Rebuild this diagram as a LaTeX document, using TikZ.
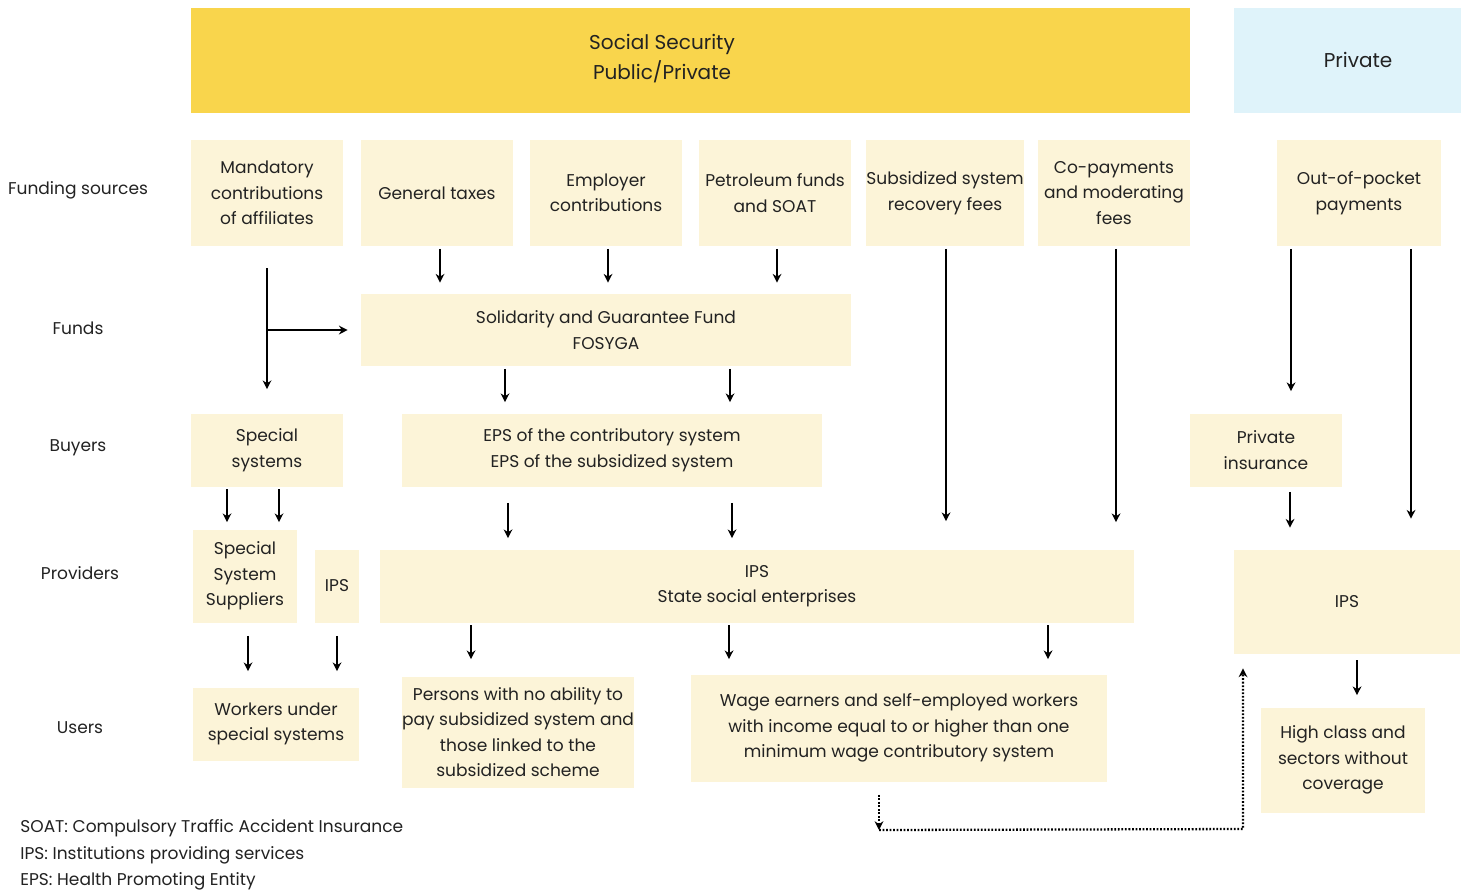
\documentclass[tikz,border=0pt]{standalone}
\usepackage{fontspec}
\setmainfont{Poppins}
\usetikzlibrary{arrows.meta}

\definecolor{cream}{HTML}{FCF4D8}
\definecolor{gold}{HTML}{F9D54C}
\definecolor{skyblue}{HTML}{DFF3FA}
\definecolor{ink}{HTML}{222222}

\begin{document}
\begin{tikzpicture}[
    x=0.02cm, y=-0.02cm,
    every node/.style={font=\fontsize{9.7}{14.5}\selectfont, text=ink},
    box/.style={fill=cream, align=center, inner sep=0pt},
    fund/.style={box, minimum width=3.04cm, minimum height=2.12cm},
    banner/.style={align=center, font=\fontsize{11.4}{17}\selectfont},
    rowlabel/.style={align=center},
    note/.style={anchor=west, inner sep=0pt},
    arrow/.style={-{Stealth[length=5pt,width=5pt]}, line width=1.1pt, shorten <=0.05cm, shorten >=0.22cm},
    dotarrow/.style={-{Stealth[length=5pt,width=5pt]}, line width=1.3pt, dash pattern=on 1pt off 1pt}
]
\useasboundingbox (0,0) rectangle (1461,894);

% Banners
\fill[gold] (191,8) rectangle (1190,113);
\fill[skyblue] (1234,8) rectangle (1461,113);
\node[banner] (social) at (662,59) {Social Security\\Public/Private};
\node[banner] (private) at (1358,60) {Private};

% Row labels
\node[rowlabel] (lfunding) at (78,190) {Funding sources};
\node[rowlabel] (lfunds) at (78,328) {Funds};
\node[rowlabel] (lbuyers) at (78,448) {Buyers};
\node[rowlabel] (lproviders) at (80,573) {Providers};
\node[rowlabel] (lusers) at (80,728) {Users};

% Funding sources
\node[fund] (mandatory) at (267,193) {Mandatory\\contributions\\of affiliates};
\node[fund] (taxes) at (437,193) {General taxes};
\node[fund] (employer) at (606,193) {Employer\\contributions};
\node[fund] (petroleum) at (775,193) {Petroleum funds\\and SOAT};
\node[fund] (recovery) at (945,193) {Subsidized system\\recovery fees};
\node[fund] (copay) at (1114,193) {Co-payments\\and moderating\\fees};
\node[fund, minimum width=3.28cm] (pocket) at (1359,193) {Out-of-pocket\\payments};

% Funds
\node[box, minimum width=9.8cm, minimum height=1.44cm] (fosyga) at (606,330) {Solidarity and Guarantee Fund\\FOSYGA};

% Buyers
\node[box, minimum width=3.04cm, minimum height=1.46cm] (special) at (267,450) {Special\\systems};
\node[box, minimum width=8.4cm, minimum height=1.46cm] (eps) at (612,450) {EPS of the contributory system\\EPS of the subsidized system};
\node[box, minimum width=3.04cm, minimum height=1.46cm] (privins) at (1266,450) {Private\\insurance};

% Providers
\node[box, minimum width=2.08cm, minimum height=1.86cm] (suppliers) at (245,576) {Special\\System\\Suppliers};
\node[box, minimum width=0.9cm, minimum height=1.46cm] (ipssmall) at (337,586) {IPS};
\node[box, minimum width=15.08cm, minimum height=1.46cm] (ipsstate) at (757,586) {IPS\\State social enterprises};
\node[box, minimum width=4.54cm, minimum height=2.08cm] (ipspriv) at (1347,602) {IPS};

% Users
\node[box, minimum width=3.34cm, minimum height=1.46cm] (workers) at (276,724) {Workers under\\special systems};
\node[box, minimum width=4.64cm, minimum height=2.22cm] (persons) at (518,732) {Persons with no ability to\\pay subsidized system and\\those linked to the\\subsidized scheme};
\node[box, minimum width=8.32cm, minimum height=2.14cm] (wage) at (899,728) {Wage earners and self-employed workers\\with income equal to or higher than one\\minimum wage contributory system};
\node[box, minimum width=3.28cm, minimum height=2.1cm] (highclass) at (1343,760) {High class and\\sectors without\\coverage};

% Funding sources to funds
\foreach \src/\x in {taxes/440, employer/608, petroleum/777}
  \draw[arrow] (\src.south -| \x,0) -- (fosyga.north -| \x,0);
\coordinate (split) at (mandatory.south |- fosyga.west);
\draw[arrow, shorten <=0.44cm, shorten >=0.48cm] (mandatory.south) -- (special.north -| mandatory.south);
\draw[arrow, shorten <=0pt, shorten >=0.26cm] (split) -- (fosyga.west);

% Direct flows to providers
\draw[arrow, shorten >=0.56cm] (recovery.south -| 946,0) -- (ipsstate.north -| 946,0);
\draw[arrow, shorten >=0.54cm] (copay.south -| 1116,0) -- (ipsstate.north -| 1116,0);
\draw[arrow, shorten >=0.44cm] (pocket.south -| 1291,0) -- (privins.north -| 1291,0);
\draw[arrow, shorten >=0.62cm] (pocket.south -| 1411,0) -- (ipspriv.north -| 1411,0);

% Funds to buyers
\foreach \x in {505, 730}
  \draw[arrow] (fosyga.south -| \x,0) -- (eps.north -| \x,0);

% Buyers to providers
\foreach \x in {227, 279}
  \draw[arrow, shorten >=0.14cm] (special.south -| \x,0) -- (suppliers.north -| \x,0);
\foreach \x in {508, 732}
  \draw[arrow, shorten <=0.32cm] (eps.south -| \x,0) -- (ipsstate.north -| \x,0);
\draw[arrow, shorten <=0.1cm, shorten >=0.44cm] (privins.south -| 1290,0) -- (ipspriv.north -| 1290,0);

% Providers to users
\draw[arrow, shorten <=0.26cm, shorten >=0.32cm] (suppliers.south -| 248,0) -- (workers.north -| 248,0);
\draw[arrow, shorten <=0.26cm, shorten >=0.32cm] (ipssmall.south -| 337,0) -- (workers.north -| 337,0);
\draw[arrow, shorten >=0.34cm] (ipsstate.south -| 471,0) -- (persons.north -| 471,0);
\foreach \x in {729, 1048}
  \draw[arrow, shorten >=0.3cm] (ipsstate.south -| \x,0) -- (wage.north -| \x,0);
\draw[arrow, shorten <=0.12cm, shorten >=0.24cm] (ipspriv.south -| 1357,0) -- (highclass.north -| 1357,0);

% Dotted link
\coordinate (dotcorner) at (879,830);
\coordinate (dotturn) at (1243,829);
\draw[dotarrow, shorten <=0.26cm] (wage.south -| dotcorner) -- (dotcorner);
\draw[dotarrow, shorten >=0.28cm] (dotcorner) -- (dotturn) -- (ipspriv.south -| dotturn);

% Notes
\node[note] (nsoat) at (20,828) {SOAT: Compulsory Traffic Accident Insurance};
\node[note] (nips) at (20,855) {IPS: Institutions providing services};
\node[note] (neps) at (20,881) {EPS: Health Promoting Entity};

\end{tikzpicture}
\end{document}
